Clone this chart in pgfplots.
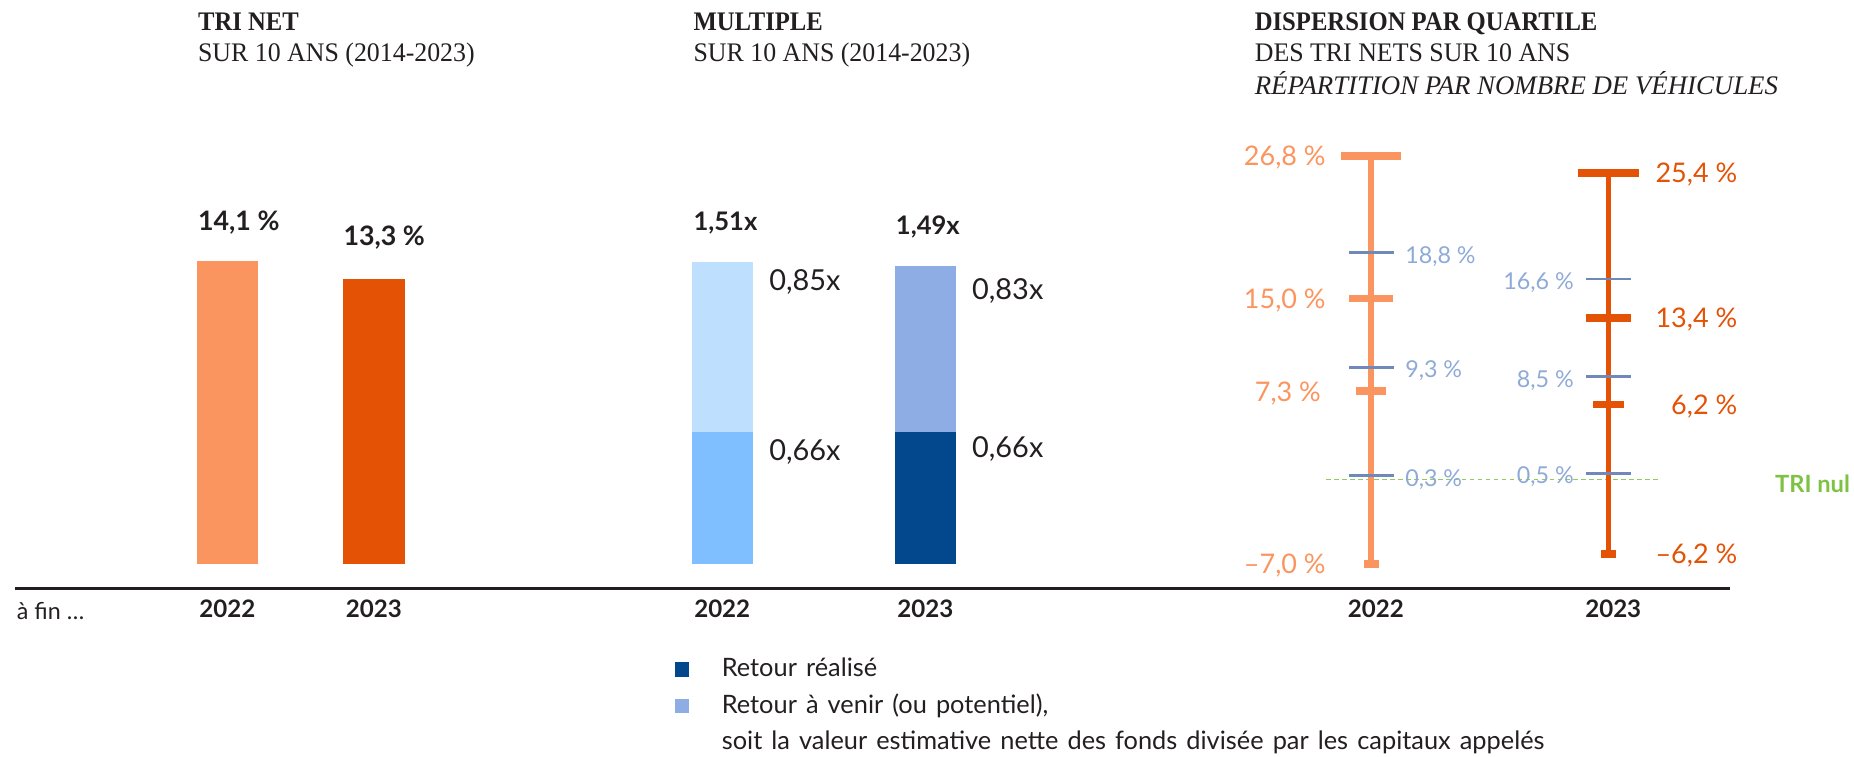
\documentclass[border=0pt]{standalone}
\usepackage{pgfplots}
\pgfplotsset{compat=1.18}
\usepackage{fontspec}
\setmainfont{Lato}
\newfontfamily\legfont[WordSpace=1.4]{Lato}
\newfontfamily\titlefont[FakeStretch=0.965]{Liberation Serif}
\newfontfamily\titlebf[FakeStretch=0.92]{Liberation Serif}
\newfontfamily\titleit{Liberation Serif}

\definecolor{txt}{HTML}{231F20}
\definecolor{orL}{HTML}{FB9560}
\definecolor{orD}{HTML}{E35205}
\definecolor{lb1}{HTML}{80BFFF}
\definecolor{lb2}{HTML}{BFDFFF}
\definecolor{mb}{HTML}{8FADE5}
\definecolor{db}{HTML}{03478C}
\definecolor{qline}{HTML}{7189BA}
\definecolor{qtxt}{HTML}{8EAAD6}
\definecolor{grn}{HTML}{7DC242}

\newcommand\tf{\fontsize{12.9}{15}\selectfont}
\newcommand\yearfont{\bfseries\fontsize{11.6}{13}\selectfont}

\tikzset{lab/.style={inner sep=0pt, text=txt}}
\pgfplotsset{
  panel/.style={scale only axis, clip=false, axis line style={draw=none},
    ytick=\empty, xtick={0,1}, xticklabels={2022,2023}, major tick length=0pt,
    xmin=-0.5, xmax=1.5, anchor=south west,
    xticklabel style={font=\yearfont, anchor=base, inner sep=0pt, text=txt}},
  mybar/.style={ybar, bar shift=0pt, draw=none},
  cap/.style={only marks, mark=-, mark options={line width=0.13cm}},
}

\begin{document}
\begin{tikzpicture}
\useasboundingbox (0,0) rectangle (31.36,12.8);

% titles
\node[lab, anchor=base west, font=\titlebf\tf\bfseries] at (3.344,12.28) {TRI NET};
\node[lab, anchor=base west, font=\titlefont\tf] at (3.344,11.756) {SUR 10 ANS (2014-2023)};
\node[lab, anchor=base west, font=\titlebf\tf\bfseries] at (11.724,12.28) {MULTIPLE};
\node[lab, anchor=base west, font=\titlefont\tf] at (11.724,11.756) {SUR 10 ANS (2014-2023)};
\node[lab, anchor=base west, font=\titlebf\tf\bfseries] at (21.218,12.28) {DISPERSION PAR QUARTILE};
\node[lab, anchor=base west, font=\titlefont\tf] at (21.218,11.756) {DES TRI NETS SUR 10 ANS};
\node[lab, anchor=base west, font=\titleit\tf\itshape] at (21.218,11.204) {RÉPARTITION PAR NOMBRE DE VÉHICULES};

\draw[txt, line width=0.05cm] (0.26,2.848) -- (29.254,2.848);
\node[lab, anchor=base west, font=\fontsize{11.2}{13}\selectfont] at (0.28,2.32) {à fin …};

% TRI NET
\begin{axis}[panel, at={(2.605cm,3.26cm)}, width=4.96cm, height=5.808cm,
  ymin=0, ymax=16, xticklabel style={yshift=-0.9cm}]
\addplot[mybar, bar width=1.04cm, fill=orL] coordinates {(0,14.1)};
\addplot[mybar, bar width=1.04cm, fill=orD] coordinates {(1,13.3)};
\node[lab, anchor=base west, font=\bfseries\fontsize{12.9}{15}\selectfont] at (axis cs:-0.202,15.56) {14,1 \%};
\node[lab, anchor=base west, font=\bfseries\fontsize{12.9}{15}\selectfont] at (axis cs:0.79,14.86) {13,3 \%};
\end{axis}

% MULTIPLE
\begin{axis}[panel, at={(10.498cm,3.26cm)}, width=6.874cm, height=6.08cm,
  ymin=0, ymax=1.8, xticklabel style={yshift=-0.9cm},
  legend image code/.code={\fill[#1] (0cm,-0.12cm) rectangle (0.24cm,0.12cm);},
  legend style={draw=none, fill=none, inner sep=0pt, outer sep=0pt, anchor=north west,
    at={(axis description cs:0.134,-0.253)}, column sep=0.48cm, row sep=0.12cm,
    font=\legfont\fontsize{12.2}{13}\selectfont, text=txt,
    cells={anchor=west, inner sep=0pt, text height=0.3cm, text depth=0.1cm}}]
\addplot[mybar, bar width=1.03cm, fill=lb2, forget plot] coordinates {(0,1.51)};
\addplot[mybar, bar width=1.03cm, fill=lb1, forget plot] coordinates {(0,0.66)};
\addplot[mybar, bar width=1.03cm, fill=mb, forget plot] coordinates {(1,1.49)};
\addplot[mybar, bar width=1.03cm, fill=db, forget plot] coordinates {(1,0.66)};
\addlegendimage{fill=db, draw=none}\addlegendentry{Retour réalisé}
\addlegendimage{fill=mb, draw=none}\addlegendentry{Retour à venir (ou potentiel),}
\addlegendimage{empty legend}\addlegendentry{soit la valeur estimative nette des fonds divisée par les capitaux appelés}
\node[lab, anchor=base west, font=\bfseries\fontsize{12.3}{14}\selectfont] at (axis cs:-0.143,1.670) {1,51x};
\node[lab, anchor=base west, font=\bfseries\fontsize{12.3}{14}\selectfont] at (axis cs:0.853,1.648) {1,49x};
\node[lab, anchor=base west, font=\fontsize{13.9}{16}\selectfont] at (axis cs:0.230,1.369) {0,85x};
\node[lab, anchor=base west, font=\fontsize{13.9}{16}\selectfont] at (axis cs:0.230,0.517) {0,66x};
\node[lab, anchor=base west, font=\fontsize{13.9}{16}\selectfont] at (axis cs:1.228,1.322) {0,83x};
\node[lab, anchor=base west, font=\fontsize{13.9}{16}\selectfont] at (axis cs:1.228,0.534) {0,66x};
\end{axis}

% DISPERSION
\begin{axis}[panel, at={(21.185cm,3.06cm)}, width=8.03cm, height=7.344cm,
  ymin=-8, ymax=28, xticklabel style={yshift=-0.7cm, xshift=0.08cm}]
\addplot[grn!85, line width=0.022cm, dash pattern=on 0.08cm off 0.055cm] coordinates {(-0.19,0) (1.217,0)};
\addplot[orL, line width=0.096cm] coordinates {(0,-7.0) (0,26.8)};
\addplot[orD, line width=0.096cm] coordinates {(1,-6.2) (1,25.4)};
\addplot[orL, cap, mark size=0.506cm] coordinates {(0,26.8)};
\addplot[orL, cap, mark size=0.376cm] coordinates {(0,15.0)};
\addplot[orL, cap, mark size=0.257cm] coordinates {(0,7.3)};
\addplot[orL, cap, mark size=0.127cm] coordinates {(0,-7.0)};
\addplot[orD, cap, mark size=0.51cm] coordinates {(1,25.4)};
\addplot[orD, cap, mark size=0.38cm] coordinates {(1,13.4)};
\addplot[orD, cap, mark size=0.26cm] coordinates {(1,6.2)};
\addplot[orD, cap, mark size=0.127cm] coordinates {(1,-6.2)};
\addplot[qline, only marks, mark=-, mark size=0.38cm, mark options={line width=0.045cm}]
  coordinates {(0,18.8) (0,9.3) (0,0.3) (1,16.6) (1,8.5) (1,0.5)};
% labels
\begin{scope}[every node/.style={inner sep=0pt, font=\fontsize{13}{15}\selectfont, yshift=-0.165cm}]
\node[text=orL, anchor=base east] at (axis cs:-0.19,26.8) {26,8 \%};
\node[text=orL, anchor=base east] at (axis cs:-0.19,15.0) {15,0 \%};
\node[text=orL, anchor=base east] at (axis cs:-0.21,7.3) {7,3 \%};
\node[text=orL, anchor=base east] at (axis cs:-0.19,-7.0) {–7,0 \%};
\node[text=orD, anchor=base east] at (axis cs:1.544,25.4) {25,4 \%};
\node[text=orD, anchor=base east] at (axis cs:1.544,13.4) {13,4 \%};
\node[text=orD, anchor=base east] at (axis cs:1.544,6.2) {6,2 \%};
\node[text=orD, anchor=base east] at (axis cs:1.544,-6.2) {–6,2 \%};
\node[text=grn, anchor=base west, font=\bfseries\fontsize{11.4}{14}\selectfont] at (axis cs:1.70,-0.25) {TRI nul};
\end{scope}
\begin{scope}[every node/.style={inner sep=0pt, font=\fontsize{11.2}{13}\selectfont, yshift=-0.18cm, text=qtxt}]
\node[anchor=base west] at (axis cs:0.142,18.8) {18,8 \%};
\node[anchor=base west] at (axis cs:0.142,9.3) {9,3 \%};
\node[anchor=base west] at (axis cs:0.142,0.3) {0,3 \%};
\node[anchor=base east] at (axis cs:0.855,16.6) {16,6 \%};
\node[anchor=base east] at (axis cs:0.855,8.5) {8,5 \%};
\node[anchor=base east] at (axis cs:0.855,0.5) {0,5 \%};
\end{scope}
\end{axis}
\end{tikzpicture}
\end{document}
